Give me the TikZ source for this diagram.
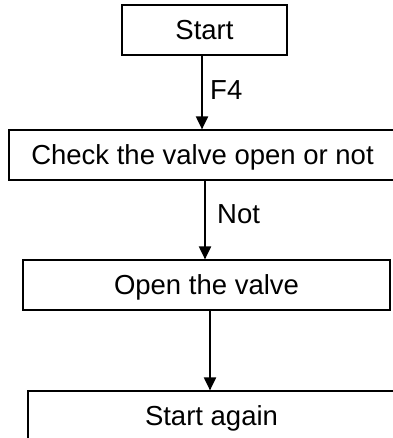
\documentclass[tikz,border=0pt]{standalone}
\usepackage{fontspec}
\setmainfont{Liberation Sans}
\usetikzlibrary{arrows.meta}
\begin{document}
\begin{tikzpicture}[x=1pt,y=-1pt,
  box/.style={draw,line width=1.2pt,rectangle,inner sep=0pt,minimum height=50pt,
    text height=19.7pt,text depth=0pt,font=\fontsize{27.5}{33}\selectfont},
  arr/.style={line width=2pt,-{Triangle[length=13pt,width=12pt]}},
  lbl/.style={inner sep=0pt,anchor=base west,font=\fontsize{27.5}{33}\selectfont}]
\useasboundingbox (0,0) rectangle (392,438);
\node[box,minimum width=165pt] (start) at (204.5,30) {Start};
\node[box,minimum width=387pt] (check) at (202.5,155) {Check the valve open or not};
\node[box,minimum width=367pt] (open) at (206.5,285) {Open the valve};
\node[box,minimum width=367pt] (again) at (211.5,416) {Start again};
\draw[arr] ([xshift=-2.5pt]start.south) -- ([xshift=-2.5pt]start.south |- check.north);
\draw[arr] ([xshift=2.5pt]check.south) -- ([xshift=2.5pt]check.south |- open.north);
\draw[arr] ([xshift=3.5pt]open.south) -- ([xshift=3.5pt]open.south |- again.north);
\node[lbl] (f4) at (210,100) {F4};
\node[lbl] (not) at (217,223) {Not};
\end{tikzpicture}
\end{document}
